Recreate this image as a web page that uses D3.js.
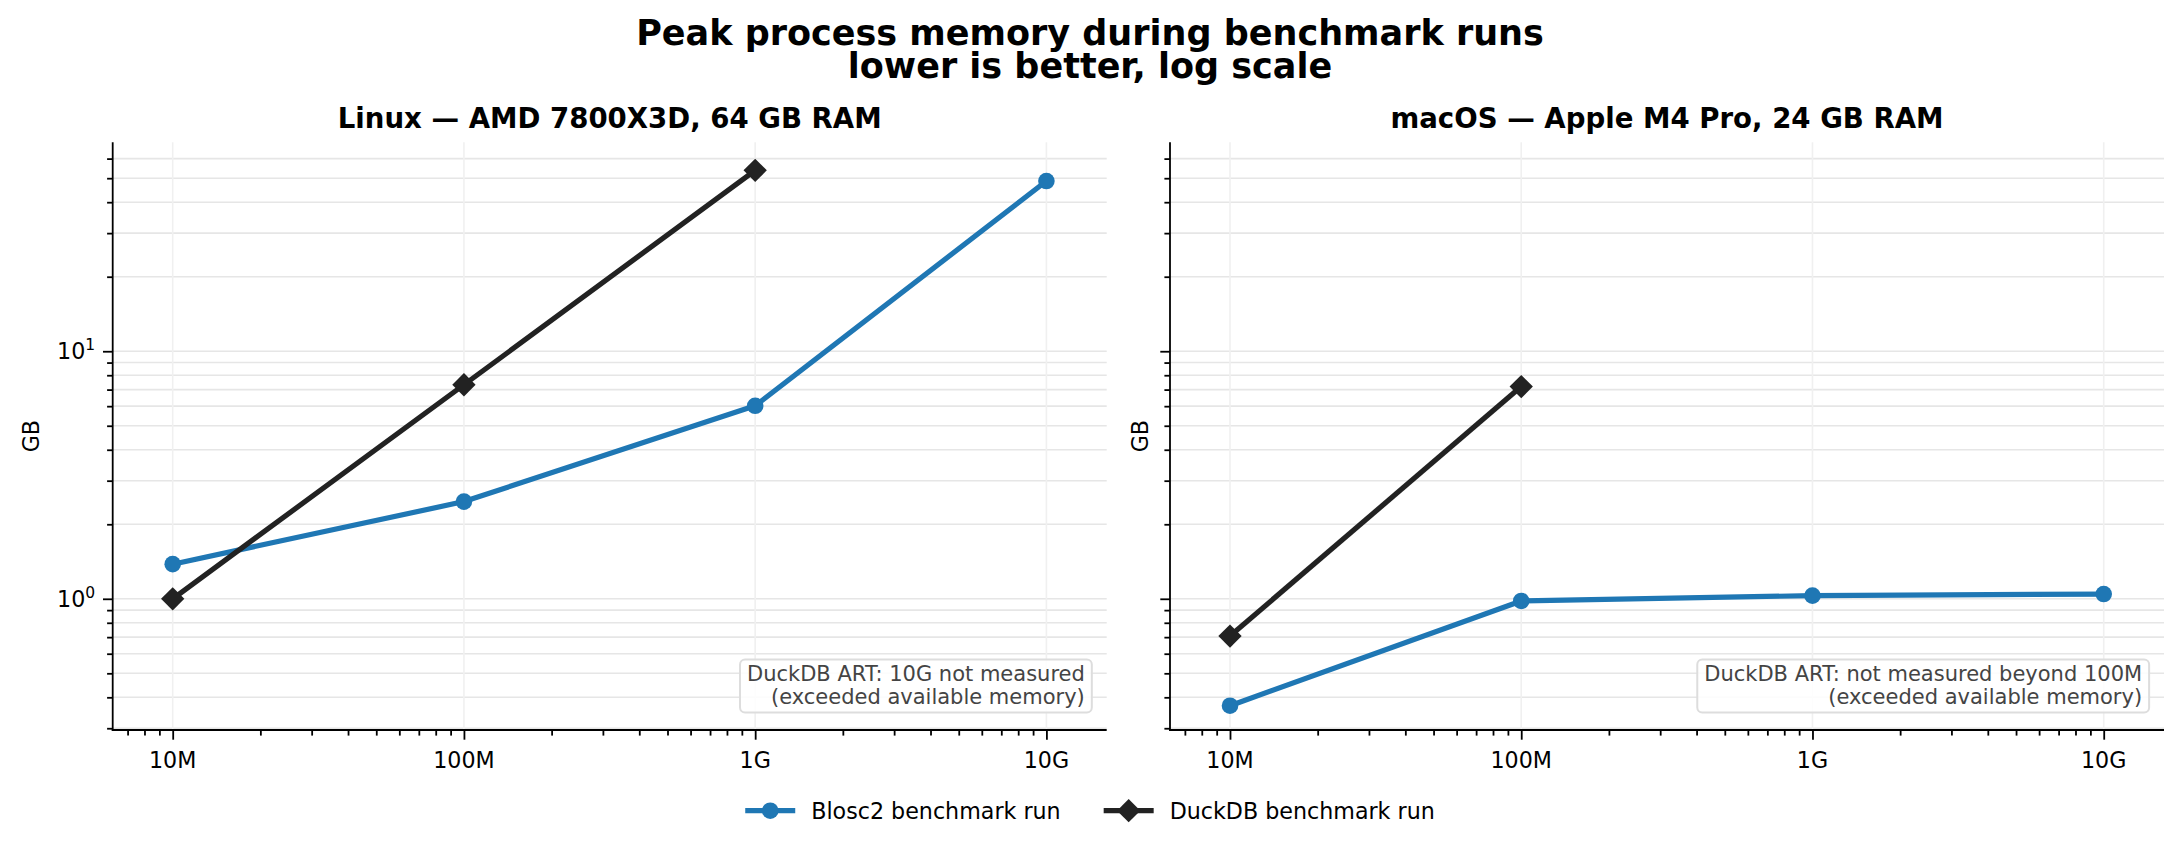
<!DOCTYPE html>
<html>
<head>
<meta charset="utf-8">
<script src="https://cdn.jsdelivr.net/npm/d3@7"></script>
<style>
  body { margin: 0; background: #fff; }
  svg text { font-family: 'DejaVu Sans', sans-serif; }
</style>
</head>
<body>
<div id="chart"></div>
<script>
// rows per benchmark size
const sizes = [1e7, 1e8, 1e9, 1e10];
const sizeLabels = ['10M', '100M', '1G', '10G'];

// peak memory in GB
const linuxBlosc2 = [1.38, 2.47, 6.02, 48.7];
const linuxDuckdb = [1.0, 7.32, 53.8];
const macBlosc2 = [0.37, 0.98, 1.03, 1.045];
const macDuckdb = [0.707, 7.2];

const titleLines = ['Peak process memory during benchmark runs', 'lower is better, log scale'];
const panelTitles = ['Linux \u2014 AMD 7800X3D, 64 GB RAM', 'macOS \u2014 Apple M4 Pro, 24 GB RAM'];
const panelNotes = [
    ['DuckDB ART: 10G not measured', '(exceeded available memory)'],
    ['DuckDB ART: not measured beyond 100M', '(exceeded available memory)']
];
const seriesNames = ['Blosc2 benchmark run', 'DuckDB benchmark run'];
const seriesColors = ['#1f77b4', '#222222'];

const width = 2180;
const height = 843;
const plotTop = 142.3, plotBottom = 730;
const panelLeft = [112.7, 1170];
const panelWidth = 994;
// distance from the y spine to the GB label baseline
const ylabelOffset = [74, 22];

const svg = d3.select('#chart')
    .append('svg')
    .attr('width', width)
    .attr('height', height);

// suptitle as one text block, two lines
const title = svg.append('text')
    .attr('text-anchor', 'middle')
    .style('font-size', '35px').style('font-weight', 'bold');
titleLines.forEach((t, k) => {
    title.append('tspan')
        .attr('x', width / 2).attr('y', 44.5 + k * 33.5)
        .text(t);
});

const y = d3.scaleLog()
    .domain([Math.pow(10, -0.53), Math.pow(10, 1.844)])
    .range([plotBottom, plotTop]);

const panels = [
    { blosc: linuxBlosc2, duck: linuxDuckdb },
    { blosc: macBlosc2, duck: macDuckdb }
];

const diamond = d3.symbol().type(d3.symbolSquare).size(16.5 * 16.5);

panels.forEach((p, i) => {
    const left = panelLeft[i];
    const x = d3.scaleLog()
        .domain([Math.pow(10, 6.794), Math.pow(10, 10.207)])
        .range([left, left + panelWidth]);
    const g = svg.append('g');

    const yTicks = y.ticks();
    const xTicks = x.ticks();
    const isMajor = v => Math.abs(Math.log10(v) - Math.round(Math.log10(v))) < 1e-9;

    // grid
    g.selectAll('.hgrid')
        .data(yTicks)
        .enter().append('line')
        .attr('x1', left).attr('x2', left + panelWidth)
        .attr('y1', d => y(d)).attr('y2', d => y(d))
        .style('stroke', '#e6e6e6').style('stroke-width', 1.6);
    g.selectAll('.vgrid')
        .data(xTicks.filter(isMajor))
        .enter().append('line')
        .attr('x1', d => x(d)).attr('x2', d => x(d))
        .attr('y1', plotTop).attr('y2', plotBottom)
        .style('stroke', '#f0f0f0').style('stroke-width', 1.6);

    // axes
    const yAxis = g.append('g')
        .attr('transform', `translate(${left},0)`)
        .call(d3.axisLeft(y).tickValues(yTicks).tickSize(0).tickFormat(''));
    yAxis.select('.domain').remove();
    yAxis.selectAll('.tick line')
        .attr('x2', d => isMajor(d) ? -9.7 : -5.6)
        .style('stroke', '#000').style('stroke-width', 1.8);

    const xAxis = g.append('g')
        .attr('transform', `translate(0,${plotBottom})`)
        .call(d3.axisBottom(x).tickValues(xTicks).tickSize(0).tickFormat(''));
    xAxis.select('.domain').remove();
    xAxis.selectAll('.tick line')
        .attr('y2', d => isMajor(d) ? 9.7 : 5.6)
        .style('stroke', '#000').style('stroke-width', 1.8);

    g.selectAll('.xlab')
        .data(sizes)
        .enter().append('text')
        .attr('x', d => x(d)).attr('y', 768)
        .attr('text-anchor', 'middle')
        .style('font-size', '22.2px')
        .text((d, j) => sizeLabels[j]);

    if (i === 0) {
        const lab = g.selectAll('.ylab')
            .data(yTicks.filter(isMajor))
            .enter().append('text')
            .attr('x', left - 17.5).attr('y', d => y(d) + 8)
            .attr('text-anchor', 'end')
            .style('font-size', '22.2px');
        lab.append('tspan').text('10');
        lab.append('tspan')
            .attr('dy', -9).style('font-size', '15.5px')
            .text(d => Math.round(Math.log10(d)));
    }

    g.append('line')
        .attr('x1', left).attr('x2', left)
        .attr('y1', plotTop).attr('y2', plotBottom + 0.9)
        .style('stroke', '#000').style('stroke-width', 1.8);
    g.append('line')
        .attr('x1', left - 0.9).attr('x2', left + panelWidth)
        .attr('y1', plotBottom).attr('y2', plotBottom)
        .style('stroke', '#000').style('stroke-width', 1.8);

    g.append('text')
        .attr('transform', `translate(${left - ylabelOffset[i]},${(plotTop + plotBottom) / 2}) rotate(-90)`)
        .attr('text-anchor', 'middle')
        .style('font-size', '22.2px')
        .text('GB');

    g.append('text')
        .attr('x', left + panelWidth / 2).attr('y', 128)
        .attr('text-anchor', 'middle')
        .style('font-size', '27.6px').style('font-weight', 'bold')
        .text(panelTitles[i]);

    // lines
    const line = d3.line()
        .x(d => x(d[0]))
        .y(d => y(d[1]));

    const bloscPts = p.blosc.map((v, j) => [sizes[j], v]);
    const duckPts = p.duck.map((v, j) => [sizes[j], v]);

    g.append('path')
        .datum(bloscPts)
        .attr('d', line)
        .style('fill', 'none').style('stroke', seriesColors[0])
        .style('stroke-width', 5.2).style('stroke-linejoin', 'round');
    g.selectAll('.bdot')
        .data(bloscPts)
        .enter().append('circle')
        .attr('cx', d => x(d[0])).attr('cy', d => y(d[1]))
        .attr('r', 8.3)
        .style('fill', seriesColors[0]);

    g.append('path')
        .datum(duckPts)
        .attr('d', line)
        .style('fill', 'none').style('stroke', seriesColors[1])
        .style('stroke-width', 5.2).style('stroke-linejoin', 'round');
    g.selectAll('.ddot')
        .data(duckPts)
        .enter().append('path')
        .attr('d', diamond)
        .attr('transform', d => `translate(${x(d[0])},${y(d[1])}) rotate(45)`)
        .style('fill', seriesColors[1]);

    // note box
    const noteX = left + panelWidth * 0.98 - 2;
    const note = g.append('g');
    const box = note.append('rect');
    const noteText = note.append('text')
        .attr('text-anchor', 'end')
        .style('font-size', '21px').style('fill', '#444444');
    panelNotes[i].forEach((t, k) => {
        noteText.append('tspan')
            .attr('x', noteX).attr('y', 681 + k * 23)
            .text(t);
    });
    const bb = noteText.node().getBBox();
    box.attr('x', bb.x - 7).attr('y', 659.5)
        .attr('width', bb.width + 14).attr('height', 53)
        .attr('rx', 5)
        .style('fill', 'rgba(255,255,255,0.85)')
        .style('stroke', '#dddddd').style('stroke-width', 2);
});

// legend
const legendY = 810.7;
const legend = svg.append('g');
const items = legend.selectAll('g')
    .data(seriesNames)
    .enter().append('g');
items.append('line')
    .attr('x1', 0).attr('x2', 50)
    .attr('y1', legendY).attr('y2', legendY)
    .style('stroke', (d, i) => seriesColors[i]).style('stroke-width', 5.2);
items.each(function(d, i) {
    const it = d3.select(this);
    if (i === 0) {
        it.append('circle').attr('cx', 25).attr('cy', legendY).attr('r', 8.3)
            .style('fill', seriesColors[0]);
    } else {
        it.append('path').attr('d', diamond)
            .attr('transform', `translate(25,${legendY}) rotate(45)`)
            .style('fill', seriesColors[1]);
    }
});
items.append('text')
    .attr('x', 66).attr('y', legendY + 8)
    .style('font-size', '22.2px')
    .text(d => d);

let cursor = 0;
const widths = [];
items.each(function() {
    widths.push(66 + d3.select(this).select('text').node().getComputedTextLength());
});
const gap = 43;
const total = d3.sum(widths) + gap * (widths.length - 1);
cursor = width / 2 - total / 2;
items.attr('transform', (d, i) => {
    const t = `translate(${cursor},0)`;
    cursor += widths[i] + gap;
    return t;
});
</script>
</body>
</html>
